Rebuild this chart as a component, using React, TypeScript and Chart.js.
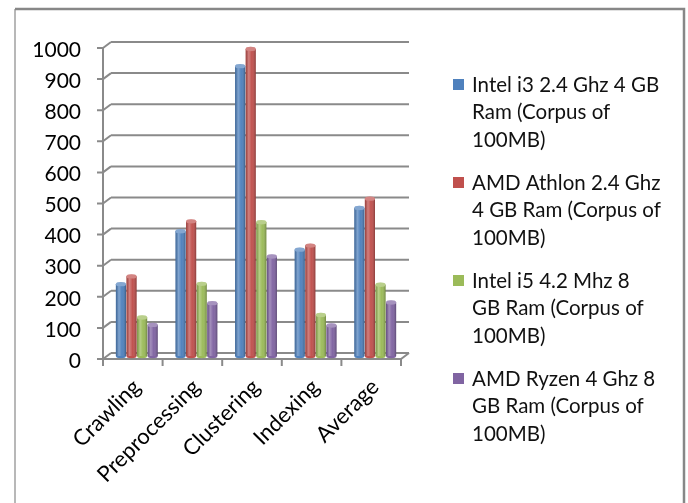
import React, { useEffect, useRef } from "react";
import { Chart, registerables } from "chart.js";

Chart.register(...registerables);

const categories = ["Crawling", "Preprocessing", "Clustering", "Indexing", "Average"];
const seriesNames = [
  "Intel i3 2.4 Ghz 4 GB\nRam (Corpus of\n100MB)",
  "AMD Athlon 2.4 Ghz\n4 GB Ram (Corpus of\n100MB)",
  "Intel i5 4.2 Mhz 8\nGB Ram (Corpus of\n100MB)",
  "AMD Ryzen 4 Ghz 8\nGB Ram (Corpus of\n100MB)",
];
const intelI3 = [231, 401, 932, 342, 476];
const amdAthlon = [256, 433, 987, 355, 506];
const intelI5 = [124, 232, 430, 132, 229];
const amdRyzen = [100, 170, 320, 98, 172];
const yMin = 0;
const yMax = 1000;
const yStep = 100;
const seriesColors = ["#4F81BD", "#C0504D", "#9BBB59", "#8064A2"];

const FONT = "Lato, 'Liberation Sans', sans-serif";
const D = 4; // half depth x
const E = 3; // half depth y

const decoPlugin = {
  id: "deco",
  beforeDraw(chart: any) {
    const ctx = chart.ctx;
    const { left, right, bottom } = chart.chartArea;
    const ys = chart.scales.y;
    const xs = chart.scales.x;
    ctx.save();
    ctx.fillStyle = "#ffffff";
    ctx.fillRect(0, 0, chart.width, chart.height);
    // outer frame
    ctx.strokeStyle = "#a0a0a0";
    ctx.lineWidth = 1.5;
    ctx.beginPath();
    ctx.moveTo(15, chart.height);
    ctx.lineTo(15, 9);
    ctx.stroke();
    ctx.strokeStyle = "#878787";
    ctx.lineWidth = 2.5;
    ctx.beginPath();
    ctx.moveTo(15, 9);
    ctx.lineTo(684, 9);
    ctx.lineTo(684, chart.height);
    ctx.stroke();

    // walls & grid
    ctx.strokeStyle = "#8a8a8a";
    ctx.lineWidth = 2;
    ctx.beginPath();
    ys.ticks.forEach((t: any) => {
      const py = ys.getPixelForValue(t.value);
      ctx.moveTo(left + D, py - E);
      ctx.lineTo(right + D, py - E);
      ctx.moveTo(left - D, py + E);
      ctx.lineTo(left + D, py - E);
      ctx.moveTo(left - D - 6, py + E);
      ctx.lineTo(left - D, py + E);
    });
    ctx.stroke();
    ctx.beginPath();
    ctx.moveTo(left - D, ys.getPixelForValue(yMax) + E);
    ctx.lineTo(left - D, ys.getPixelForValue(yMin) + E);
    // floor
    ctx.moveTo(left - D, bottom + E);
    ctx.lineTo(right - D, bottom + E);
    ctx.lineTo(right + D, bottom - E);
    // category ticks
    const half = (xs.getPixelForValue(1) - xs.getPixelForValue(0)) / 2;
    for (let i = 0; i <= categories.length; i++) {
      const bx = xs.getPixelForValue(Math.min(i, categories.length - 1)) + (i === categories.length ? half : -half) - D;
      ctx.moveTo(bx, bottom + E);
      ctx.lineTo(bx, bottom + E + 7);
    }
    ctx.stroke();
    ctx.restore();
  },
  afterDatasetsDraw(chart: any) {
    const ctx = chart.ctx;
    ctx.save();
    chart.data.datasets.forEach((ds: any, di: number) => {
      const meta = chart.getDatasetMeta(di);
      meta.data.forEach((el: any) => {
        const w = el.width;
        const x0 = el.x - w / 2;
        const top = el.y;
        const base = el.base;
        const g = ctx.createLinearGradient(x0, 0, x0 + w, 0);
        g.addColorStop(0, "rgba(0,0,0,0.18)");
        g.addColorStop(0.3, "rgba(255,255,255,0.28)");
        g.addColorStop(0.6, "rgba(255,255,255,0.02)");
        g.addColorStop(1, "rgba(0,0,0,0.28)");
        ctx.fillStyle = g;
        ctx.fillRect(x0, top, w, base - top);
        // top cap
        ctx.beginPath();
        ctx.ellipse(el.x, top, w / 2, 2.2, 0, 0, Math.PI * 2);
        ctx.fillStyle = ds.backgroundColor;
        ctx.fill();
        ctx.fillStyle = "rgba(255,255,255,0.3)";
        ctx.fill();
        // bottom cap
        ctx.beginPath();
        ctx.ellipse(el.x, base, w / 2, 2.2, 0, 0, Math.PI);
        ctx.fillStyle = ds.backgroundColor;
        ctx.fill();
      });
    });
    ctx.restore();
  },
  afterDraw(chart: any) {
    const ctx = chart.ctx;
    ctx.save();
    ctx.font = `20.5px ${FONT}`;
    ctx.textBaseline = "middle";
    ctx.textAlign = "left";
    chart.data.datasets.forEach((ds: any, i: number) => {
      const y0 = 85 + i * 98;
      ctx.fillStyle = ds.backgroundColor;
      ctx.fillRect(453, y0 - 6, 11, 11);
      ctx.fillStyle = "#111111";
      String(ds.label)
        .split("\n")
        .forEach((line: string, j: number) => {
          ctx.fillText(line, 472, y0 + j * 27.7);
        });
    });
    ctx.restore();
  },
};

export default function App() {
  const ref = useRef<HTMLCanvasElement | null>(null);
  useEffect(() => {
    if (!ref.current) return;
    const seriesValues = [intelI3, amdAthlon, intelI5, amdRyzen];
    const chart = new Chart(ref.current, {
      type: "bar",
      data: {
        labels: categories,
        datasets: seriesValues.map((vals, i) => ({
          label: seriesNames[i],
          data: vals,
          backgroundColor: seriesColors[i],
          borderWidth: 0,
          categoryPercentage: 0.71,
          barPercentage: 0.96,
        })),
      },
      options: {
        responsive: false,
        animation: false,
        layout: { padding: { left: 0, right: 283, top: 45, bottom: 0 } },
        plugins: { legend: { display: false }, tooltip: { enabled: false } },
        scales: {
          x: {
            grid: { display: false, drawTicks: false },
            border: { display: false },
            ticks: {
              maxRotation: 45,
              minRotation: 45,
              padding: 18,
              color: "#000",
              font: { family: FONT, size: 22 },
            },
            afterFit(s: any) {
              s.height = 147;
            },
          },
          y: {
            min: yMin,
            max: yMax,
            grid: { display: false, drawTicks: false },
            border: { display: false },
            ticks: {
              stepSize: yStep,
              padding: 26,
              labelOffset: 5,
              color: "#000",
              font: { family: FONT, size: 21 },
              callback: (v: any) => String(v),
            },
            afterFit(s: any) {
              s.width = 107;
            },
          },
        },
      },
      plugins: [decoPlugin],
    });
    return () => chart.destroy();
  }, []);
  return (
    <div style={{ position: "fixed", left: 0, top: 0, width: 688, height: 503, background: "#fff" }}>
      <canvas ref={ref} width={688} height={503} style={{ display: "block" }} />
    </div>
  );
}
